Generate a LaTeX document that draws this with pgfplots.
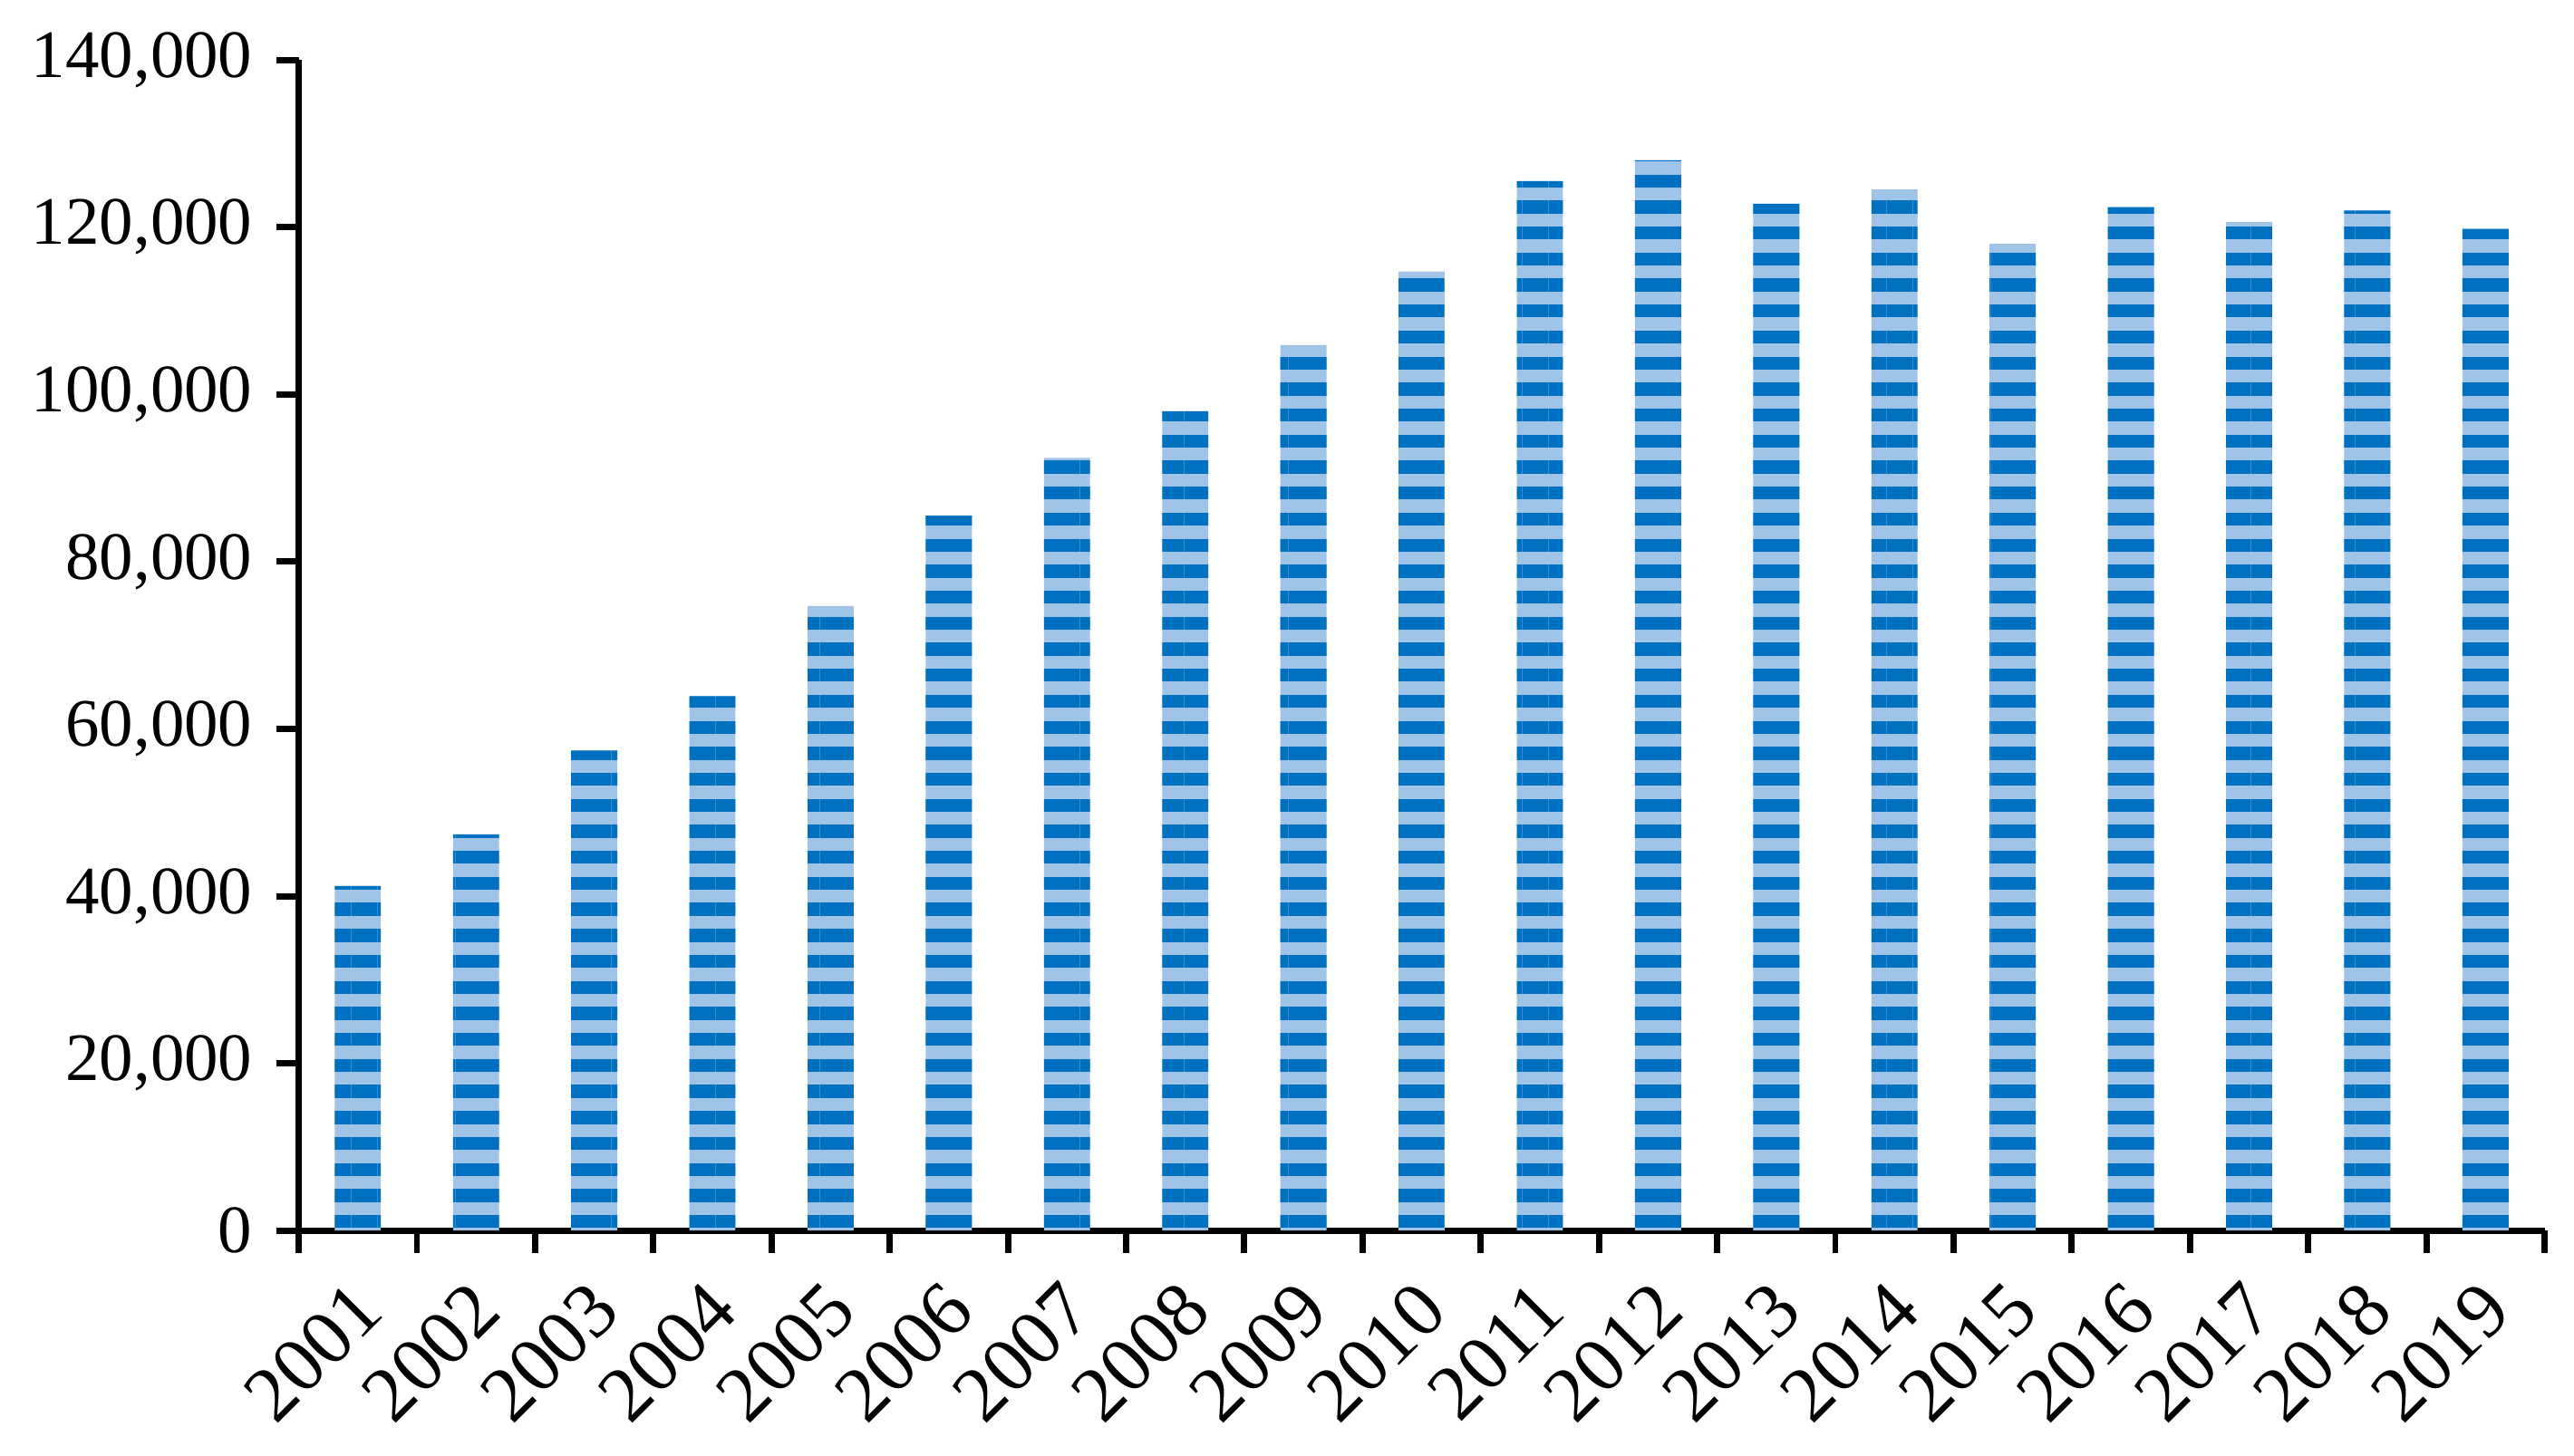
\documentclass[border=0pt]{standalone}
\usepackage{fontspec}
\setmainfont{Liberation Serif}
\usepackage{pgfplots}
\pgfplotsset{compat=1.18}
\usetikzlibrary{patterns.meta}
\definecolor{darkb}{RGB}{0,112,192}
\definecolor{lightb}{RGB}{160,196,232}
\begin{document}
\fontsize{12}{14}\selectfont
\begin{tikzpicture}
\begin{axis}[
  name=ax,
  scale only axis,
  width=397pt, height=207pt,
  xmin=-0.5, xmax=18.5,
  ymin=0, ymax=140000,
  axis x line=bottom, axis y line=left,
  axis line style={-, line width=1.1pt},
  every tick/.style={black, line width=1.1pt},
  major tick length=4pt,
  tick align=outside,
  xtick={-0.5,0.5,...,18.5},
  xticklabels={2001,2002,2003,2004,2005,2006,2007,2008,2009,2010,2011,2012,2013,2014,2015,2016,2017,2018,2019},
  x tick label as interval,
  x tick label style={rotate=45, anchor=north east, inner sep=0pt, yshift=-1.9pt, xshift=-4pt, font=\fontsize{13.8}{16}\selectfont},
  ytick={0,20000,...,140000},
  scaled y ticks=false,
  /pgf/number format/.cd, fixed, 1000 sep={,}, assume math mode=true,
  /pgfplots/.cd,
  y tick label style={font=\fontsize{12}{14}\selectfont},
  ybar, bar width=0.39,
]
\addplot[fill=lightb, draw=none, postaction={pattern={Lines[angle=0,distance=4.6pt,line width=2.3pt]}, pattern color=darkb}]
coordinates {
(0,41200) (1,47400) (2,57400) (3,63900) (4,74700) (5,85500) (6,92400) (7,98000) (8,105900) (9,114700)
(10,125500) (11,128000) (12,122800) (13,124500) (14,118000) (15,122400) (16,120600) (17,122000) (18,119800)
};
\end{axis}
\pgfresetboundingbox
\useasboundingbox ([xshift=-52.8pt,yshift=-39.8pt]ax.south west) rectangle ([xshift=402.2pt,yshift=217.6pt]ax.south west);
\end{tikzpicture}
\end{document}
